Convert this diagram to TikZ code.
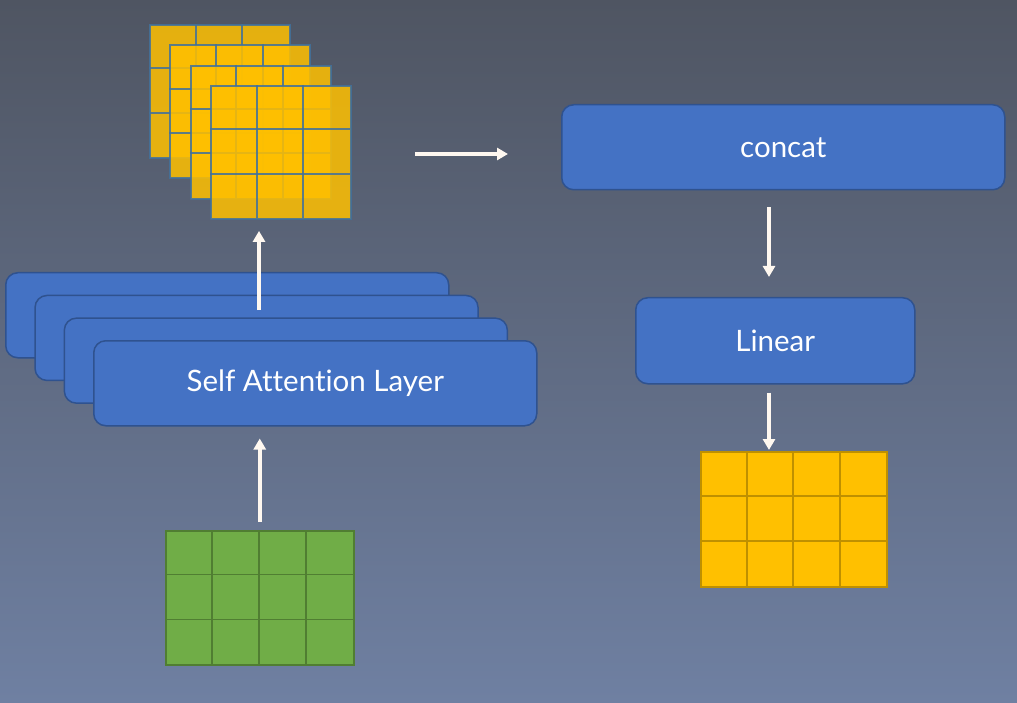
\documentclass[tikz,border=0pt]{standalone}
\usepackage{fontspec}
\setmainfont{Lato}[Ligatures=NoCommon]
\usetikzlibrary{arrows.meta,positioning,calc}
\definecolor{bgtop}{HTML}{4F5562}
\definecolor{bgbot}{HTML}{6F80A2}
\definecolor{boxfill}{HTML}{4472C4}
\definecolor{boxline}{HTML}{2F528F}
\definecolor{gold}{HTML}{FFC000}
\definecolor{goldline}{HTML}{BF9000}
\definecolor{grass}{HTML}{70AD47}
\definecolor{grassline}{HTML}{507E32}
\definecolor{headline}{HTML}{41719C}
\definecolor{arrowwhite}{HTML}{FFF8F0}
\tikzstyle{layer}=[draw=boxline, fill=boxfill, line width=1.5pt, rounded corners=12pt, text=white, font=\fontsize{29.5}{32}\selectfont, inner sep=0pt, anchor=north west]
\tikzstyle{headgrid}=[draw=headline, fill=gold, line width=2pt, opacity=0.85, inner sep=0pt, minimum width=140pt, minimum height=133pt, anchor=north west]
\tikzstyle{arrow}=[draw=arrowwhite, line width=4pt, -{Triangle[width=12pt,length=11pt]}]

\begin{document}
\begin{tikzpicture}[x=1pt,y=-1pt]
\shade[top color=bgtop, bottom color=bgbot] (0,0) rectangle (1017,703);
\useasboundingbox (0,0) rectangle (1017,703);
% stacked attention heads
\foreach \i in {0,...,3}{
  \node[headgrid] (head\i) at ({149+20.3*\i},{24+20.3*\i}) {};
  \foreach \c in {1,2}{
    \draw[headline, line width=2pt, opacity=0.85] ($(head\i.north west)+(\c*140/3,0)$) -- ++(0,133);
    \draw[headline, line width=2pt, opacity=0.85] ($(head\i.north west)+(0,\c*133/3)$) -- ++(140,0);
  }
}
% stacked layers
\foreach \i in {0,...,2}
  \node[layer, minimum width=443pt, minimum height=85pt] (att\i) at ({5+29.3*\i},{272+22.7*\i}) {};
\node[layer, minimum width=443pt, minimum height=85pt] (att3) at (93,340) {Self Attention Layer};
% input
\node[draw=grassline, fill=grass, line width=1.5pt, inner sep=0pt, minimum width=188pt, minimum height=134pt, anchor=north west] (input) at (165,530) {};
\foreach \c in {1,2,3}
  \draw[grassline, line width=1.5pt] ($(input.north west)+(\c*47,0)$) -- ++(0,134);
\foreach \r in {1,2}
  \draw[grassline, line width=1.5pt] ($(input.north west)+(0,\r*134/3)$) -- ++(188,0);
% right side
\node[layer, minimum width=443pt, minimum height=85pt] (concat) at (561,104) {concat};
\node[layer, minimum width=279pt, minimum height=86pt] (lin) at (635,297) {Linear};
\node[draw=goldline, fill=gold, line width=2pt, inner sep=0pt, minimum width=186pt, minimum height=135pt, anchor=north west] (output) at (700,451) {};
\foreach \c in {1,2,3}
  \draw[goldline, line width=2pt] ($(output.north west)+(\c*46.5,0)$) -- ++(0,135);
\foreach \r in {1,2}
  \draw[goldline, line width=2pt] ($(output.north west)+(0,\r*45)$) -- ++(186,0);
% arrows
\coordinate (up) at (259,310);
\coordinate (mid1) at (415,154);
\coordinate (mid2) at (508,154);
\coordinate (downx) at (769,0);
\draw[arrow, shorten <=8pt, shorten >=12pt] (input.north) -- (input.north |- att3.south);
\draw[arrow, shorten >=11pt] (up) -- (up |- head3.south);
\draw[arrow] (mid1) -- (mid2);
\draw[arrow, shorten <=17pt, shorten >=20pt] (downx |- concat.south) -- (downx |- lin.north);
\draw[arrow, shorten <=8pt, shorten >=1pt] (downx |- lin.south) -- (downx |- output.north);
\end{tikzpicture}
\end{document}
